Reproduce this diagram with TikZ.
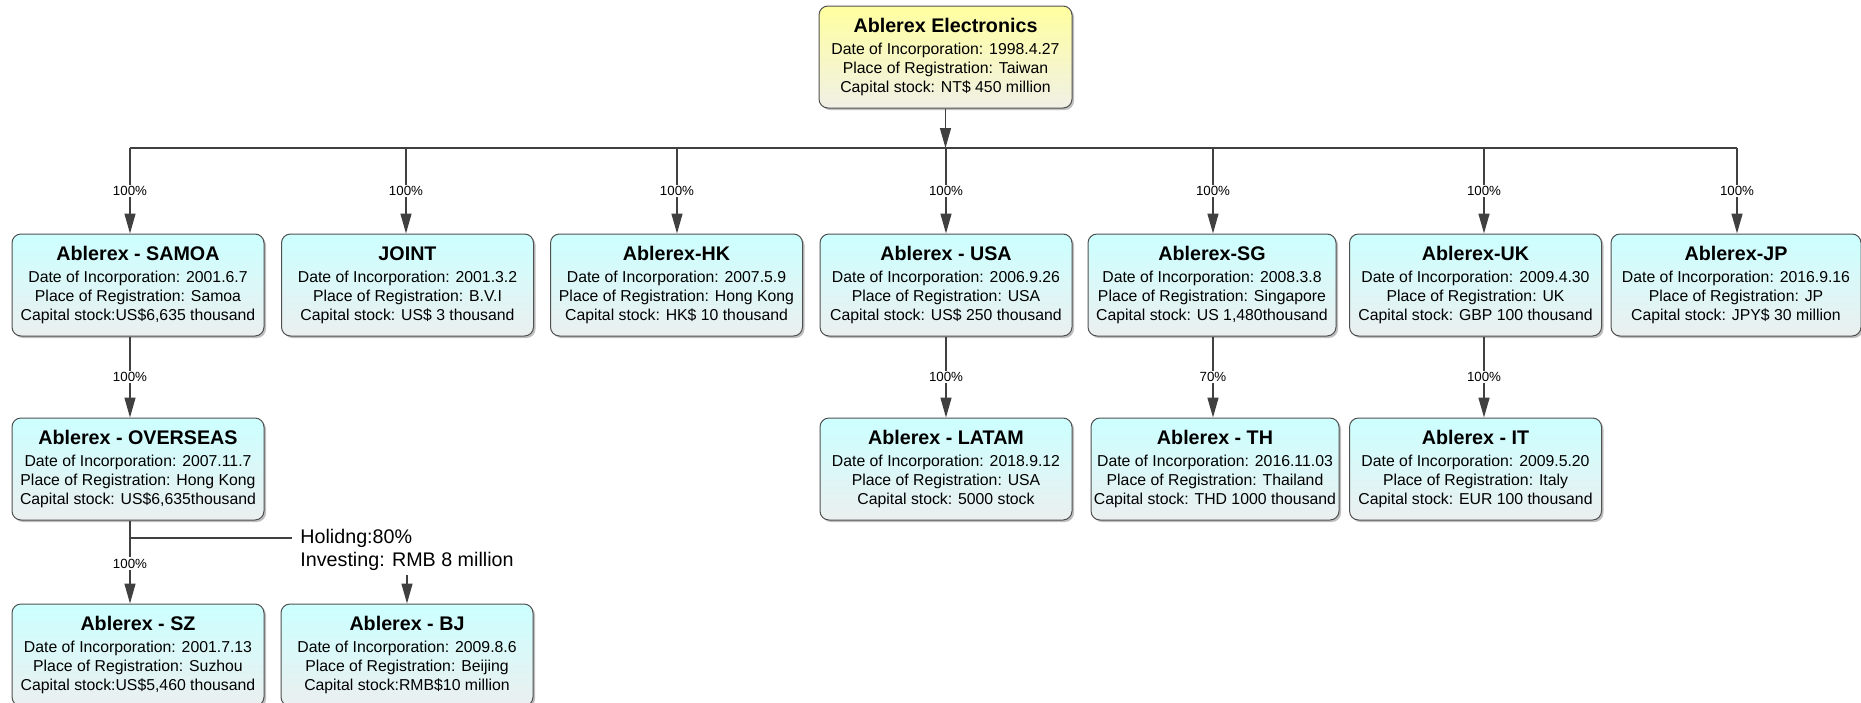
\documentclass[tikz,border=0pt]{standalone}
\usepackage{fontspec}
\setmainfont{Liberation Sans}
\usetikzlibrary{arrows.meta,shadows}
\definecolor{cyantop}{RGB}{204,255,255}
\definecolor{graybot}{RGB}{235,239,239}
\definecolor{yeltop}{RGB}{255,255,160}
\definecolor{yelbot}{RGB}{240,240,230}
\definecolor{boxline}{RGB}{80,80,80}
\definecolor{linec}{RGB}{64,64,64}
\newcommand{\orgtext}[4]{{\fontsize{19.7}{22}\selectfont\bfseries #1}\\[3pt]#2\\#3\\#4}
\begin{document}
\begin{tikzpicture}[x=1pt,y=-1pt,
  conn/.style={draw=linec, line width=1.4pt},
  arr/.style={conn, -{Triangle[length=20pt,width=11pt]}},
  pct/.style={fill=white, inner sep=1.5pt, font=\fontsize{13.3}{15}\selectfont},
  org/.style={draw=boxline, line width=1pt, rounded corners=9pt,
    minimum width=252pt, minimum height=102pt, inner sep=0pt, align=center,
    top color=cyantop, bottom color=graybot,
    drop shadow={shadow xshift=2pt, shadow yshift=-2pt, fill=black, opacity=0.25},
    font=\fontsize{15.8}{19}\selectfont},
  rootbox/.style={org, top color=yeltop, bottom color=yelbot},
  hold/.style={align=left, inner sep=4pt, font=\fontsize{19.7}{23}\selectfont}]
\useasboundingbox (0,0) rectangle (1861,702);
\fill[white] (0,0) rectangle (1861,702);

% root
\node[rootbox, minimum width=253pt] (root) at (945.5,57)
  {\orgtext{Ablerex Electronics}{Date of Incorporation: 1998.4.27}{Place of Registration: Taiwan}{Capital stock: NT\$ 450 million}};

% row 1
\node[org] (samoa) at (138,285)
  {\orgtext{Ablerex - SAMOA}{Date of Incorporation: 2001.6.7}{Place of Registration: Samoa}{Capital stock:US\$6,635 thousand}};
\node[org] (joint) at (407.5,285)
  {\orgtext{JOINT}{Date of Incorporation: 2001.3.2}{Place of Registration: B.V.I}{Capital stock: US\$ 3 thousand}};
\node[org] (hk) at (676.5,285)
  {\orgtext{Ablerex-HK}{Date of Incorporation: 2007.5.9}{Place of Registration: Hong Kong}{Capital stock: HK\$ 10 thousand}};
\node[org] (usa) at (946,285)
  {\orgtext{Ablerex - USA}{Date of Incorporation: 2006.9.26}{Place of Registration: USA}{Capital stock: US\$ 250 thousand}};
\node[org, minimum width=248pt] (sg) at (1212,285)
  {\orgtext{Ablerex-SG}{Date of Incorporation: 2008.3.8}{Place of Registration: Singapore}{Capital stock: US 1,480thousand}};
\node[org] (uk) at (1475.5,285)
  {\orgtext{Ablerex-UK}{Date of Incorporation: 2009.4.30}{Place of Registration: UK}{Capital stock: GBP 100 thousand}};
\node[org, minimum width=250pt] (jp) at (1736,285)
  {\orgtext{Ablerex-JP}{Date of Incorporation: 2016.9.16}{Place of Registration: JP}{Capital stock: JPY\$ 30 million}};

% row 2
\node[org] (overseas) at (138,469)
  {\orgtext{Ablerex - OVERSEAS}{Date of Incorporation: 2007.11.7}{Place of Registration: Hong Kong}{Capital stock: US\$6,635thousand}};
\node[org] (latam) at (946,469)
  {\orgtext{Ablerex - LATAM}{Date of Incorporation: 2018.9.12}{Place of Registration: USA}{Capital stock: 5000 stock}};
\node[org, minimum width=248pt] (th) at (1215,469)
  {\orgtext{Ablerex - TH}{Date of Incorporation: 2016.11.03}{Place of Registration: Thailand}{Capital stock: THD 1000 thousand}};
\node[org] (it) at (1475.5,469)
  {\orgtext{Ablerex - IT}{Date of Incorporation: 2009.5.20}{Place of Registration: Italy}{Capital stock: EUR 100 thousand}};

% row 3
\node[org] (sz) at (138,655)
  {\orgtext{Ablerex - SZ}{Date of Incorporation: 2001.7.13}{Place of Registration: Suzhou}{Capital stock:US\$5,460 thousand}};
\node[org] (bj) at (407,655)
  {\orgtext{Ablerex - BJ}{Date of Incorporation: 2009.8.6}{Place of Registration: Beijing}{Capital stock:RMB\$10 million}};

% bus
\coordinate (bus0) at (945.5,148);
\coordinate (b1) at (130,148);
\coordinate (b2) at (406,148);
\coordinate (b3) at (677,148);
\coordinate (b4) at (946,148);
\coordinate (b5) at (1213,148);
\coordinate (b6) at (1484,148);
\coordinate (b7) at (1737,148);
\draw[conn] (b1) -- (b7);
\draw[arr] (root.south) -- (bus0);

\draw[arr] (b1) -- node[pct]{100\%} (b1 |- samoa.north);
\draw[arr] (b2) -- node[pct]{100\%} (b2 |- joint.north);
\draw[arr] (b3) -- node[pct]{100\%} (b3 |- hk.north);
\draw[arr] (b4) -- node[pct]{100\%} (b4 |- usa.north);
\draw[arr] (b5) -- node[pct]{100\%} (b5 |- sg.north);
\draw[arr] (b6) -- node[pct]{100\%} (b6 |- uk.north);
\draw[arr] (b7) -- node[pct]{100\%} (b7 |- jp.north);

% second level
\draw[arr] (b1 |- samoa.south) -- node[pct]{100\%} (b1 |- overseas.north);
\draw[arr] (b4 |- usa.south) -- node[pct]{100\%} (b4 |- latam.north);
\draw[arr] (b5 |- sg.south) -- node[pct]{70\%} (b5 |- th.north);
\draw[arr] (b6 |- uk.south) -- node[pct]{100\%} (b6 |- it.north);

% third level
\draw[arr] (b1 |- overseas.south) -- node[pct, pos=0.52]{100\%} (b1 |- sz.north);
\coordinate (br1) at (130,538);
\coordinate (br2) at (292,538);
\draw[conn] (br1) -- (br2);
\node[hold] (holdtxt) at (407,550) {Holidng:80\%\\Investing: RMB 8 million};
\draw[arr] (holdtxt.south -| bj.north) -- (bj.north);
\end{tikzpicture}
\end{document}
